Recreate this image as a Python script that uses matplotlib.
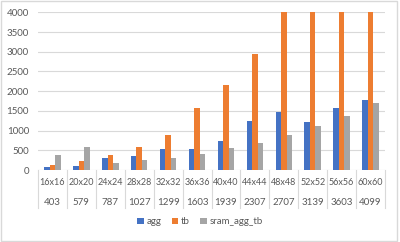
import numpy as np
import matplotlib.pyplot as plt
from matplotlib.patches import Rectangle

# Datos
tamanos = ['16x16', '20x20', '24x24', '28x28', '32x32', '36x36',
           '40x40', '44x44', '48x48', '52x52', '56x56', '60x60']
numeros = ['403', '579', '787', '1027', '1299', '1603',
           '1939', '2307', '2707', '3139', '3603', '4099']
agg = [68, 102, 314, 347, 541, 533, 739, 1246, 1466, 1220, 1576, 1780]
tb = [119, 229, 373, 576, 885, 1572, 2160, 2943, 4000, 4000, 4000, 4000]
sram_agg_tb = [390, 576, 178, 246, 309, 412, 558, 696, 898, 1110, 1373, 1712]

plt.rcParams['font.family'] = ['Lato', 'DejaVu Sans']
gris_texto = '#595959'
gris_linea = '#D9D9D9'
fs = 7

fig = plt.figure(figsize=(4, 2.42), dpi=100)
ax = fig.add_axes([0.095, 0.2975, 0.8675, 0.6515])

x = np.arange(len(tamanos))
w = 0.19
ax.bar(x - w, agg, w, color='#4472C4', label='agg')
ax.bar(x, tb, w, color='#ED7D31', label='tb')
ax.bar(x + w, sram_agg_tb, w, color='#A5A5A5', label='sram_agg_tb')

ax.set_xlim(-0.5, len(tamanos) - 0.5)
ax.set_ylim(0, 4000)
ax.set_yticks(np.arange(0, 4001, 500))
ax.yaxis.grid(True, color=gris_linea, linewidth=0.8)
ax.set_axisbelow(True)
ax.tick_params(axis='y', length=0, pad=6.5, labelsize=fs, labelcolor=gris_texto)
ax.set_xticks([])
for s in ax.spines.values():
    s.set_visible(False)

# Eje de categorías con dos niveles
tr = ax.get_xaxis_transform()
for i in range(len(tamanos)):
    ax.text(i, -0.082, tamanos[i], transform=tr, ha='center', va='center',
            fontsize=6.5, color=gris_texto)
    ax.text(i, -0.203, numeros[i], transform=tr, ha='center', va='center',
            fontsize=fs, color=gris_texto)
for b in np.arange(-0.5, len(tamanos), 1.0):
    ax.plot([b, b], [0, -0.241], transform=tr, color=gris_linea,
            linewidth=0.8, clip_on=False)

fig.legend(loc='center', bbox_to_anchor=(0.5, 0.083), ncol=3, frameon=False,
           fontsize=fs, labelcolor=gris_texto, handlelength=0.7,
           handleheight=0.7, handletextpad=0.3, columnspacing=1.0)

fig.patches.append(Rectangle((0.002, 0.004), 0.99, 0.99, transform=fig.transFigure,
                             fill=False, edgecolor=gris_linea, linewidth=1))

fig.savefig('out.png', dpi=100)
